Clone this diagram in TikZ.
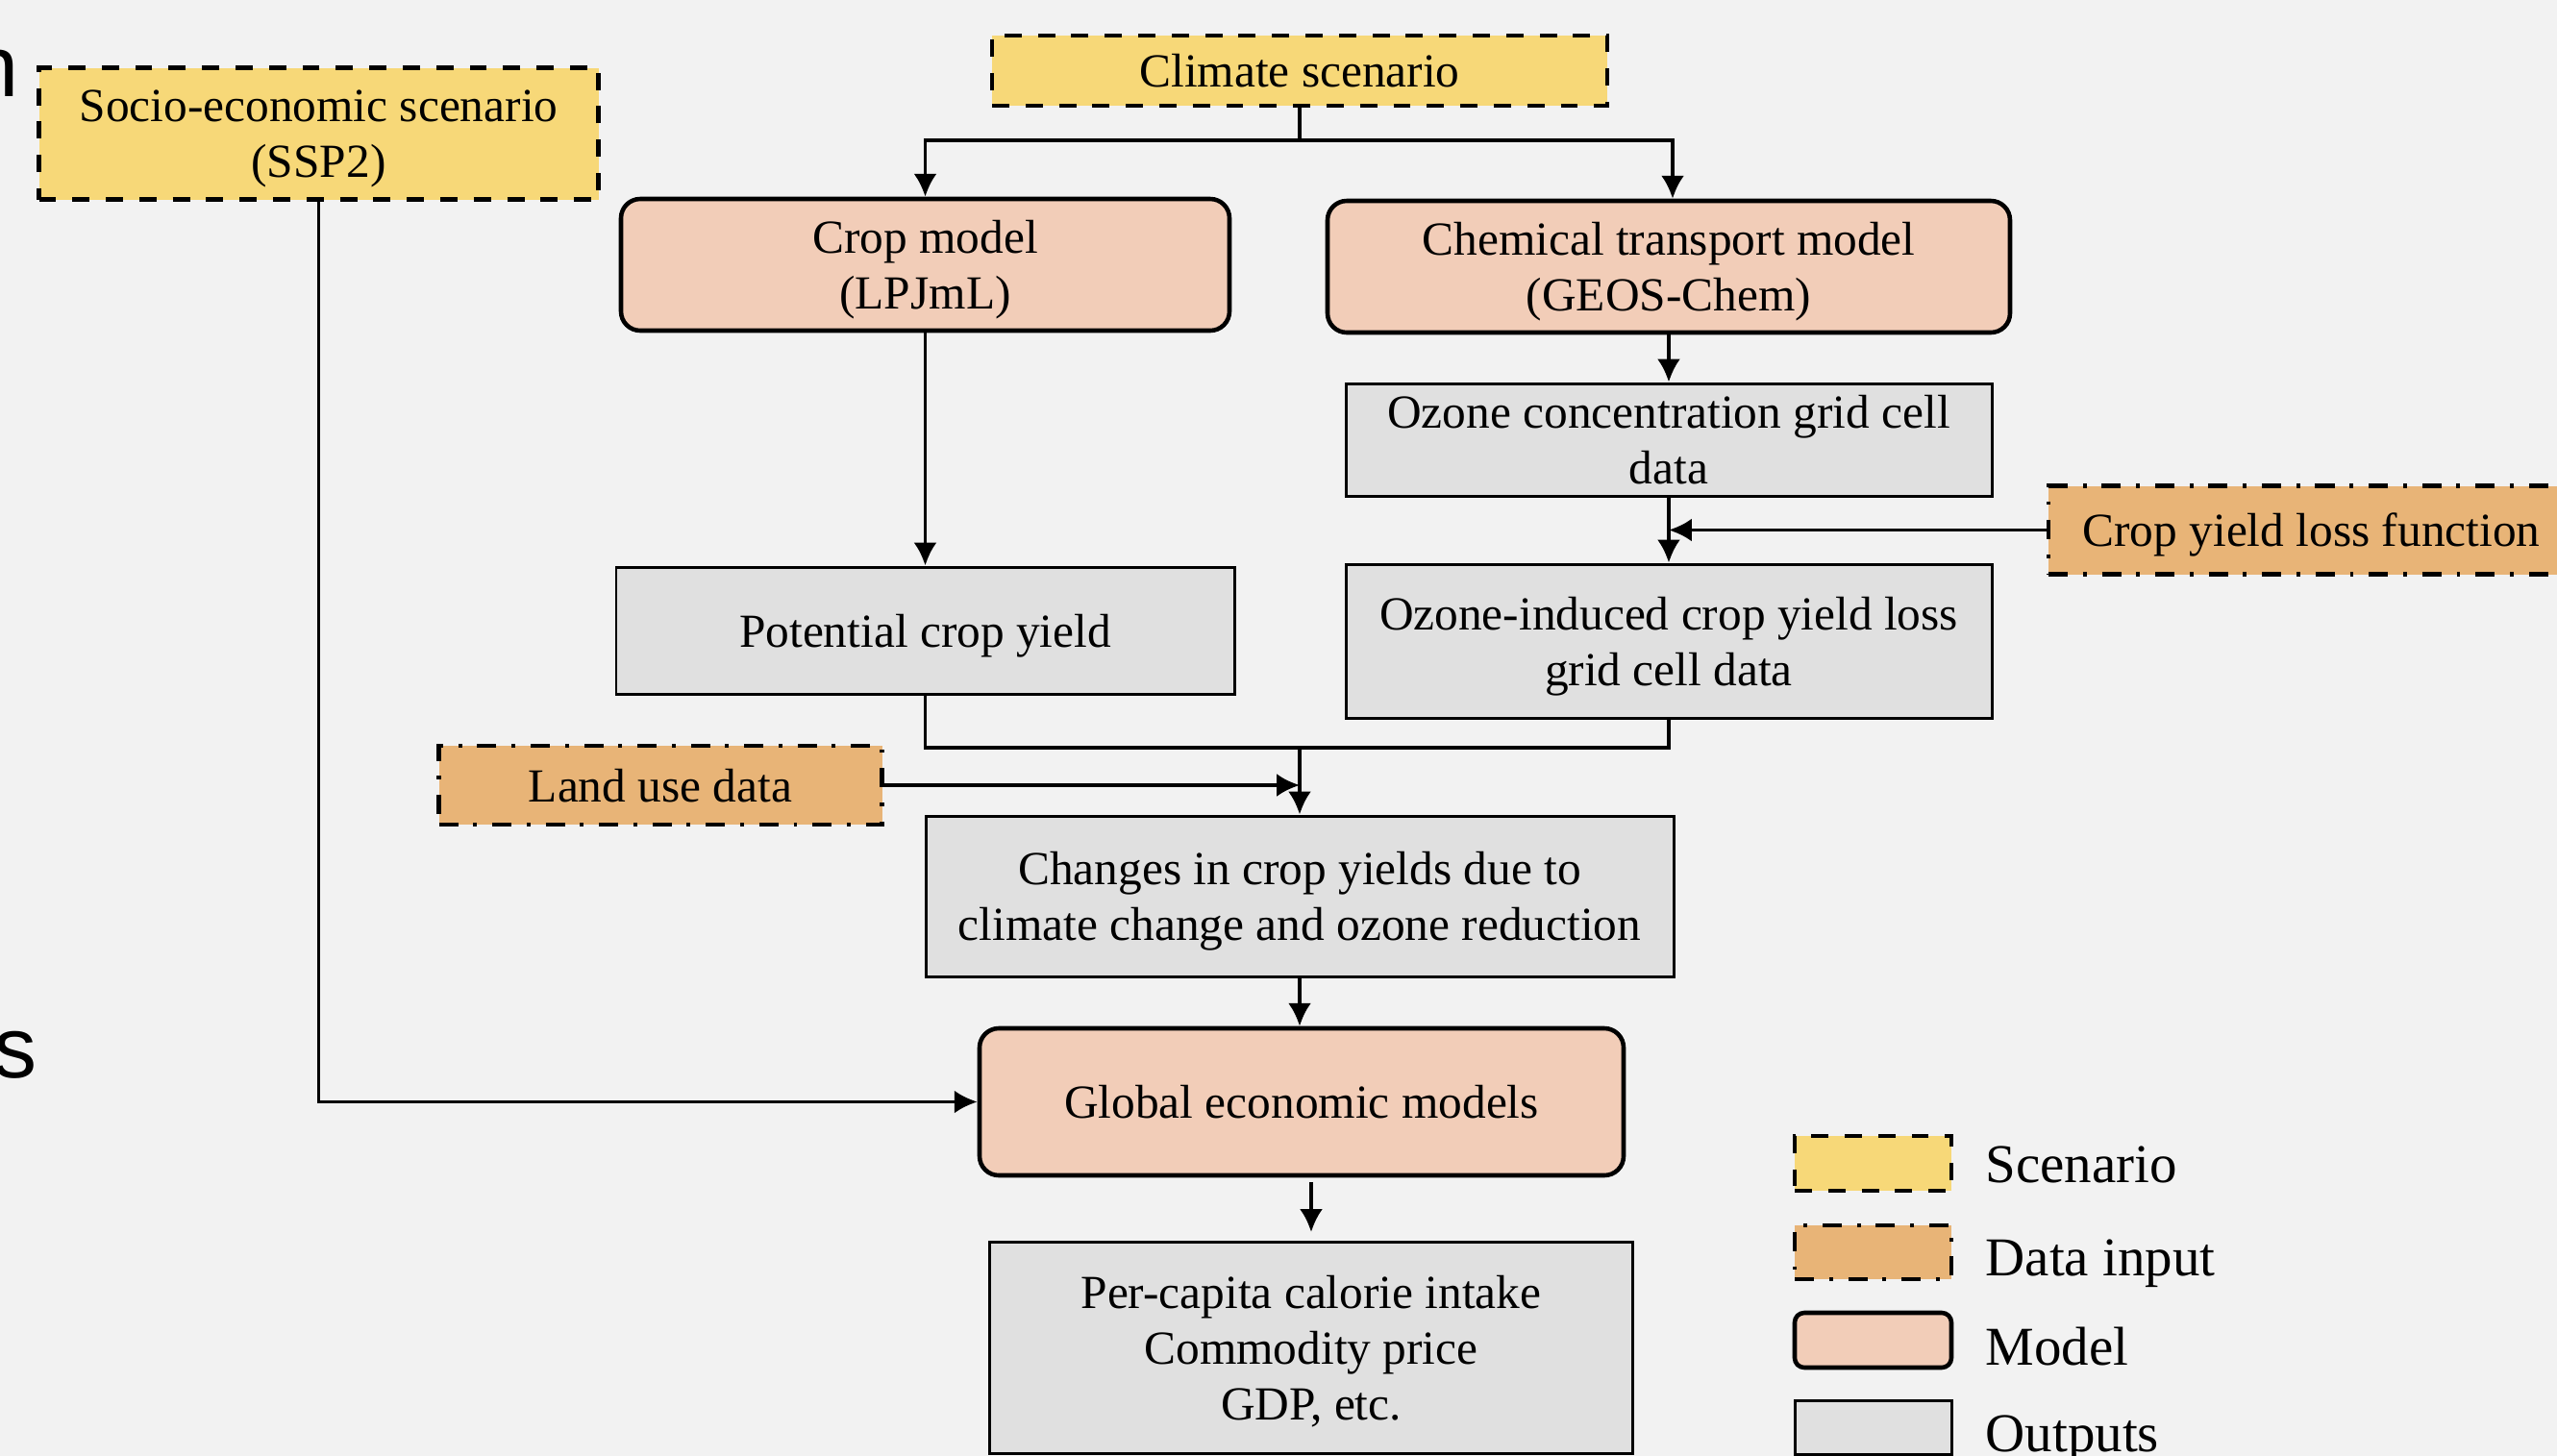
\documentclass[tikz,border=0pt]{standalone}
\usepackage{fontspec}
\setmainfont{Liberation Serif}
\setsansfont{Liberation Sans}
\usepackage{tikz}
\usetikzlibrary{arrows.meta,positioning}
\definecolor{scenyellow}{HTML}{F7D878}
\definecolor{dataorange}{HTML}{E8B477}
\definecolor{modelpeach}{HTML}{F2CDB8}
\definecolor{outgrey}{HTML}{E0E0E0}
\definecolor{bggrey}{HTML}{F2F2F2}

\begin{document}
\begin{tikzpicture}[
    node distance=2cm,
    >={Latex[length=6.8pt,width=6.8pt]},
    font=\fontsize{14.05}{16.5}\selectfont,
    scen/.style={
		rectangle,
		draw=black,
		fill=scenyellow,
		line width=1.3pt,
		dash pattern=on 5.1pt off 4.8pt,
		align=center,
		text depth=0pt,
		inner sep=0pt
	},
    datain/.style={
		rectangle,
		draw=black,
		fill=dataorange,
		line width=1.3pt,
		dash pattern=on 5.7pt off 4.5pt on 1.1pt off 4.5pt,
		align=center,
		text depth=0pt,
		inner sep=0pt
	},
    model/.style={
		rectangle,
		rounded corners=0.2cm,
		draw=black,
		fill=modelpeach,
		line width=1.3pt,
		align=center,
		text depth=0pt,
		inner sep=0pt
	},
    outbox/.style={
		rectangle,
		draw=black,
		fill=outgrey,
		line width=0.85pt,
		align=center,
		text depth=0pt,
		inner sep=0pt
	},
    flow/.style={
		draw,
		line width=1.05pt
	},
    legtext/.style={
		anchor=base west,
		inner sep=0pt,
		font=\fontsize{16.2}{19}\selectfont
	},
    cuttext/.style={
		anchor=base east,
		inner sep=0pt,
		font=\sffamily\fontsize{25.6}{30}\selectfont
	}
  ]
  % page and background
  \useasboundingbox (0,0) rectangle (26.6,-15.15);
  \fill [bggrey] (0,0) rectangle (26.6,-15.15);

  % cut-off slide text on the left edge
  \node [cuttext] (cutn) at (0.2,-1.0) {n};
  \node [cuttext] (cuts) at (0.39,-11.21) {s};

  % We start by placing the blocks
  \node [scen, minimum width=6.4cm, minimum height=0.73cm] (climate) at (13.52,-0.735) {Climate scenario};

  \node [scen, minimum width=5.82cm, minimum height=1.37cm] (ssp) at (3.315,-1.39)
  {Socio-economic scenario\\(SSP2)};

  \node [model, minimum width=6.33cm, minimum height=1.37cm] (cropmod) at (9.625,-2.755)
  {Crop model\\(LPJmL)};

  \node [model, minimum width=7.1cm, minimum height=1.37cm] (chem) at (17.36,-2.775)
  {Chemical transport model\\(GEOS-Chem)};

  \node [outbox, minimum width=6.72cm, minimum height=1.17cm, below of=chem, node distance=1.8cm] (ozone)
  {Ozone concentration grid cell\\data};

  \node [outbox, minimum width=6.72cm, minimum height=1.6cm, below of=ozone, node distance=2.095cm] (induced)
  {Ozone-induced crop yield loss\\grid cell data};

  \node [datain, minimum width=5.47cm, minimum height=0.92cm] (loss) at (24.045,-5.515)
  {Crop yield loss function};

  \node [outbox, minimum width=6.43cm, minimum height=1.32cm, below of=cropmod, node distance=3.805cm] (potential)
  {Potential crop yield};

  \node [datain, minimum width=4.61cm, minimum height=0.82cm] (land) at (6.87,-8.17)
  {Land use data};

  \node [outbox, minimum width=7.78cm, minimum height=1.67cm] (changes) at (13.52,-9.325)
  {Changes in crop yields due to\\climate change and ozone reduction};

  \node [model, minimum width=6.7cm, minimum height=1.53cm, below of=changes, node distance=2.14cm, xshift=0.02cm] (global)
  {Global economic models};

  \node [outbox, minimum width=6.69cm, minimum height=2.2cm] (outputs) at (13.64,-14.025)
  {Per-capita calorie intake\\Commodity price\\GDP, etc.};

  % connectors
  \draw [flow] (climate.south) -- ++(0,-0.34) coordinate (split);
  \draw [flow,->] (split) -| (cropmod.north);
  \draw [flow,->] (split) -| ([xshift=0.04cm]chem.north);
  \draw [flow,->] (cropmod.south) -- (cropmod.south |- potential.north);
  \draw [flow,->] (chem.south) -- (ozone.north);
  \draw [flow,->] (ozone.south) -- (induced.north);
  \draw [flow,->] (loss.west) -- (ozone.south |- loss.west);

  \coordinate (merge) at (changes.north |- 0,-7.78);
  \draw [flow] (potential.south) |- (merge) -| (induced.south);
  \draw [flow,->] (merge) -- (changes.north);
  \draw [flow,->] (land.east) -- (changes.north |- land.east);

  \draw [flow,->] (changes.south) -- (changes.south |- global.north);
  \draw [flow,->] (ssp.south) |- (global.west);
  \draw [flow,->, shorten <=0.05cm, shorten >=0.09cm] (outputs.north |- global.south) -- (outputs.north);

  % legend
  \node [scen, minimum width=1.63cm, minimum height=0.57cm] (legscen) at (19.485,-12.105) {};
  \node [datain, minimum width=1.63cm, minimum height=0.56cm, below of=legscen, node distance=0.925cm] (legdata) {};
  \node [model, rounded corners=0.1cm, minimum width=1.63cm, minimum height=0.57cm, below of=legdata, node distance=0.915cm] (legmodel) {};
  \node [outbox, minimum width=1.63cm, minimum height=0.56cm, below of=legmodel, node distance=0.905cm] (legout) {};

  \node [legtext] (lscen) at (20.65,-12.30) {Scenario};
  \node [legtext] (ldata) at (20.65,-13.27) {Data input};
  \node [legtext] (lmodel) at (20.65,-14.20) {Model};
  \node [legtext] (lout) at (20.65,-15.10) {Outputs};

\end{tikzpicture}
\end{document}
